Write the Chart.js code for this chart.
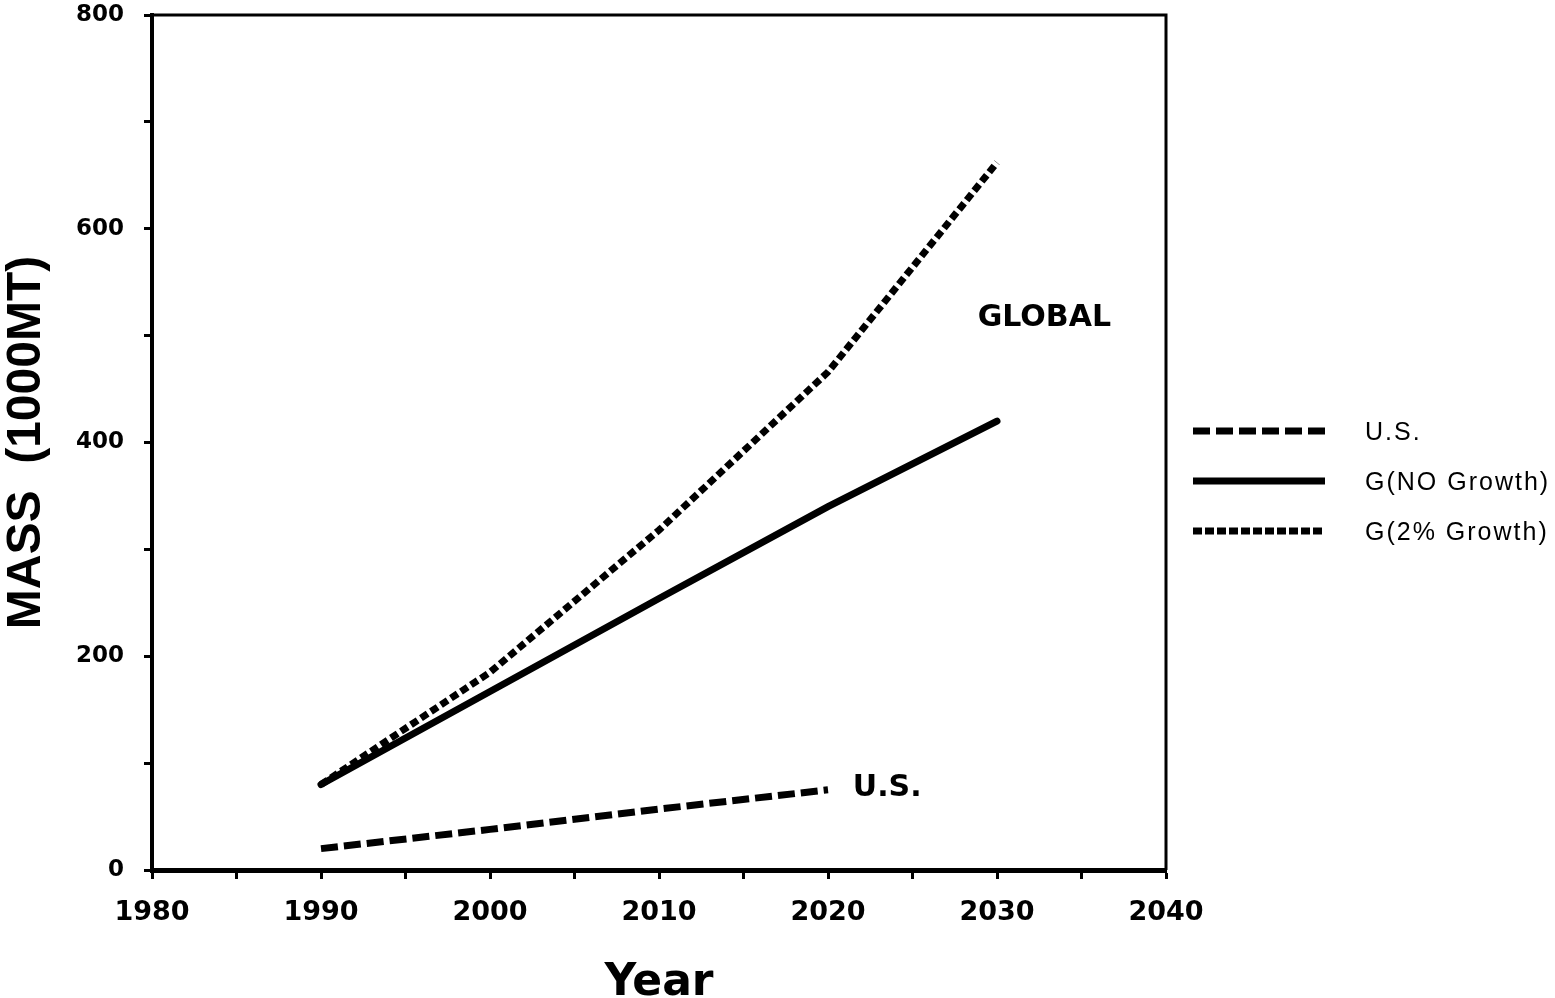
<!DOCTYPE html>
<html>
<head>
<meta charset="utf-8">
<title>Mass 1000MT by Year</title>
<script src="https://cdn.jsdelivr.net/npm/chart.js@4.4.1/dist/chart.umd.min.js"></script>
<style>
  html, body { margin: 0; padding: 0; background: #fff; }
  #wrap { width: 1555px; height: 998px; }
</style>
</head>
<body>
<div id="wrap"><canvas id="chart"></canvas></div>
<script>
// data
const years = [1990, 2000, 2010, 2020, 2030];
const usMass = [20, 38, 57, 75];
const globalNoGrowth = [80, 167, 254, 340, 420];
const global2pct = [80, 185, 318, 466, 662];
const seriesNames = ['U.S.', 'G(NO Growth)', 'G(2% Growth)'];
const xTicks = [1980, 1990, 2000, 2010, 2020, 2030, 2040];
const yTicks = [0, 200, 400, 600, 800];
// in-plot labels (data coords)
const notes = [
    { text: 'GLOBAL', x: 2032.8, y: 516 },
    { text: 'U.S.', x: 2023.5, y: 77 }
];

function pts(vals) {
    return vals.map((v, i) => ({ x: years[i], y: v }));
}

// box around plot (top + right sides)
const frame = {
    id: 'frame',
    afterDatasetsDraw(chart) {
        const a = chart.chartArea;
        const ctx = chart.ctx;
        ctx.save();
        ctx.strokeStyle = '#000';
        ctx.lineWidth = 3;
        ctx.beginPath();
        ctx.moveTo(a.left, a.top);
        ctx.lineTo(a.right, a.top);
        ctx.lineTo(a.right, a.bottom);
        ctx.stroke();
        ctx.restore();
    }
};

// text labels inside plot
const noteLabels = {
    id: 'noteLabels',
    afterDatasetsDraw(chart) {
        const ctx = chart.ctx;
        const xs = chart.scales.x, ys = chart.scales.y;
        ctx.save();
        ctx.fillStyle = '#000';
        ctx.font = 'bold 30px "DejaVu Sans", sans-serif';
        ctx.textAlign = 'center';
        ctx.textBaseline = 'middle';
        notes.forEach(n => {
            ctx.fillText(n.text, xs.getPixelForValue(n.x), ys.getPixelForValue(n.y));
        });
        ctx.restore();
    }
};

// legend on the right, drawn with the dataset styles
const sideLegend = {
    id: 'sideLegend',
    afterDraw(chart) {
        const ctx = chart.ctx;
        const a = chart.chartArea;
        const x0 = a.right + 27, x1 = a.right + 159;
        ctx.save();
        chart.data.datasets.forEach((ds, i) => {
            const y = 431 + i * 50;
            ctx.strokeStyle = ds.borderColor;
            ctx.lineWidth = ds.borderWidth;
            ctx.lineCap = 'butt';
            ctx.setLineDash(ds.legendDash || []);
            ctx.beginPath();
            ctx.moveTo(x0, y);
            ctx.lineTo(x1, y);
            ctx.stroke();
            ctx.setLineDash([]);
            ctx.fillStyle = '#000';
            ctx.font = '25px "Liberation Sans", Arial, sans-serif';
            ctx.letterSpacing = '2px';
            ctx.textAlign = 'left';
            ctx.textBaseline = 'middle';
            ctx.fillText(ds.label, a.right + 199, y + 2);
            ctx.letterSpacing = '0px';
        });
        ctx.restore();
    }
};

window.onload = function () {
    const ctx = document.getElementById('chart').getContext('2d');
    new Chart(ctx, {
        type: 'line',
        data: {
            datasets: [{
                label: seriesNames[0],
                data: pts(usMass),
                borderColor: '#000',
                borderWidth: 7,
                borderDash: [17, 6],
                legendDash: [17, 6],
                borderCapStyle: 'butt',
                pointRadius: 0,
                tension: 0
            }, {
                label: seriesNames[1],
                data: pts(globalNoGrowth),
                borderColor: '#000',
                borderWidth: 7,
                borderCapStyle: 'round',
                pointRadius: 0,
                tension: 0
            }, {
                label: seriesNames[2],
                data: pts(global2pct),
                borderColor: '#000',
                borderWidth: 7,
                borderDash: [8, 4],
                legendDash: [9, 3],
                borderCapStyle: 'butt',
                pointRadius: 0,
                tension: 0
            }]
        },
        options: {
            responsive: true,
            maintainAspectRatio: false,
            animation: false,
            layout: { padding: { left: 0, top: 15, right: 389, bottom: 0 } },
            plugins: {
                legend: { display: false },
                tooltip: { enabled: false }
            },
            scales: {
                x: {
                    type: 'linear',
                    min: xTicks[0],
                    max: xTicks[xTicks.length - 1],
                    afterFit(scale) {
                        scale.height = 128;
                        scale.paddingLeft = 0;
                        scale.paddingRight = 0;
                    },
                    afterBuildTicks(scale) {
                        const t = [];
                        for (let v = scale.min; v <= scale.max; v += 5) t.push({ value: v });
                        scale.ticks = t;
                    },
                    border: { display: true, color: '#000', width: 5 },
                    grid: { drawOnChartArea: false, drawTicks: true, tickLength: 9, tickWidth: 3, tickColor: '#000' },
                    ticks: {
                        color: '#000',
                        padding: 18,
                        maxRotation: 0,
                        autoSkip: false,
                        font: { family: '"DejaVu Sans", sans-serif', size: 27, weight: 'bold' },
                        callback: v => xTicks.includes(v) ? String(v) : ''
                    },
                    title: {
                        display: true,
                        text: 'Year',
                        color: '#000',
                        padding: { top: 0, bottom: -8 },
                        font: { family: '"DejaVu Sans", sans-serif', size: 44, weight: 'bold', lineHeight: 1.0 }
                    }
                },
                y: {
                    min: yTicks[0],
                    max: yTicks[yTicks.length - 1],
                    afterFit(scale) {
                        scale.width = 152;
                        scale.paddingTop = 0;
                        scale.paddingBottom = 0;
                    },
                    afterBuildTicks(scale) {
                        const t = [];
                        for (let v = scale.min; v <= scale.max; v += 100) t.push({ value: v });
                        scale.ticks = t;
                    },
                    border: { display: true, color: '#000', width: 4 },
                    grid: { drawOnChartArea: false, drawTicks: true, tickLength: 8, tickWidth: 3, tickColor: '#000' },
                    ticks: {
                        color: '#000',
                        padding: 20,
                        autoSkip: false,
                        font: { family: '"DejaVu Sans", sans-serif', size: 23, weight: 'bold' },
                        callback: v => yTicks.includes(v) ? String(v) : ''
                    },
                    title: {
                        display: true,
                        text: 'MASS  (1000MT)',
                        color: '#000',
                        padding: { top: 0, bottom: 0 },
                        font: { family: '"Liberation Sans", Arial, sans-serif', size: 48, weight: 'bold', lineHeight: 1.1 }
                    }
                }
            }
        },
        plugins: [frame, noteLabels, sideLegend]
    });
};
</script>
</body>
</html>
